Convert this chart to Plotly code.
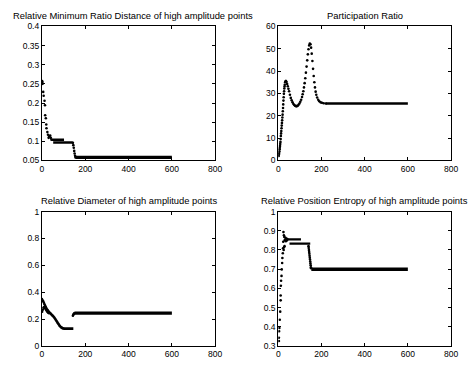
import plotly.graph_objects as go

# ---------------- data ----------------
titles = [
    "Relative Minimum Ratio Distance of high amplitude points",
    "Participation Ratio",
    "Relative Diameter of high amplitude points",
    "Relative Position Entropy of high amplitude points",
]
x_ticks = [0, 200, 400, 600, 800]

# Panel 1: Relative Minimum Ratio Distance
p1_dots_x = [1, 2, 3, 6, 8, 12, 14, 15, 18, 20, 21, 25, 28, 31, 34, 38, 41, 44,
             143, 145, 147, 149, 151, 153, 155]
p1_dots_y = [0.257, 0.255, 0.25, 0.229, 0.219, 0.206, 0.194, 0.168, 0.16, 0.144, 0.134,
             0.124, 0.117, 0.109, 0.113, 0.115, 0.109, 0.104,
             0.096, 0.09, 0.083, 0.075, 0.068, 0.062, 0.058]
p1_seg_x0 = [44, 52, 155]
p1_seg_x1 = [102, 142, 600]
p1_seg_y = [0.104, 0.097, 0.058]
p1_yticks = [0.05, 0.1, 0.15, 0.2, 0.25, 0.3, 0.35, 0.4]
p1_ylabels = ["0.05", "0.1", "0.15", "0.2", "0.25", "0.3", "0.35", "0.4"]

# Panel 2: Participation Ratio
p2_x = [2, 3, 4, 5, 6, 7, 8, 9, 10, 11, 12, 13, 14, 15, 16, 17, 18, 19, 20, 21, 22, 23,
        24, 25, 26, 27, 28, 29, 30, 32, 34, 36, 38, 41, 44, 47, 50, 54, 58, 62, 66, 70,
        74, 78, 82, 86, 90, 94, 98, 102, 106, 110, 113, 116, 119, 122, 125, 128, 131,
        134, 137, 140, 143, 146, 149, 152, 155, 158, 161, 164, 167, 170, 173, 176, 180,
        185, 190, 196, 202, 210, 220]
p2_y = [2.0, 2.7, 3.3, 4.1, 5.0, 5.7, 6.5, 7.4, 8.3, 9.6, 11.0, 12.1, 13.2, 14.4, 15.6,
        16.8, 18.0, 19.2, 20.5, 22.0, 23.5, 25.1, 26.8, 28.3, 29.8, 31.0, 32.2, 33.1,
        33.9, 35.0, 35.5, 35.5, 35.1, 34.2, 33.2, 32.1, 31.0, 29.4, 28.0, 26.9, 26.0,
        25.3, 24.8, 24.5, 24.3, 24.3, 24.5, 24.9, 25.5, 26.3, 27.2, 28.4, 29.6, 31.0,
        32.7, 34.6, 36.8, 39.3, 42.0, 44.8, 47.5, 49.8, 51.5, 52.3, 52.0, 50.5, 47.8,
        44.5, 41.0, 37.8, 35.0, 32.7, 30.8, 29.4, 28.2, 27.2, 26.5, 26.0, 25.8, 25.6, 25.5]
p2_seg_x0 = [220]
p2_seg_x1 = [600]
p2_seg_y = [25.5]
p2_yticks = [0, 10, 20, 30, 40, 50, 60]
p2_ylabels = ["0", "10", "20", "30", "40", "50", "60"]

# Panel 3: Relative Diameter
p3_dots_x = [0, 3, 6, 9, 12, 15, 18, 21, 24, 27, 30, 33,
             1, 4, 7, 10, 13, 16, 19, 22, 25, 28, 31,
             36, 39, 42, 45, 48, 51, 54, 57, 60, 63, 66, 69, 72, 75, 78, 81, 84, 87, 90,
             93, 96, 99,
             143, 145, 147, 149]
p3_dots_y = [0.35, 0.34, 0.332, 0.322, 0.31, 0.30, 0.29, 0.28, 0.272, 0.265, 0.258, 0.252,
             0.255, 0.27, 0.285, 0.29, 0.285, 0.278, 0.27, 0.262, 0.255, 0.25, 0.245,
             0.247, 0.243, 0.238, 0.233, 0.228, 0.224, 0.218, 0.212, 0.205, 0.198, 0.19,
             0.182, 0.174, 0.167, 0.16, 0.153, 0.147, 0.142, 0.138, 0.135, 0.133, 0.131,
             0.225, 0.232, 0.238, 0.243]
p3_seg_x0 = [99, 150]
p3_seg_x1 = [145, 600]
p3_seg_y = [0.13, 0.245]
p3_yticks = [0, 0.2, 0.4, 0.6, 0.8, 1]
p3_ylabels = ["0", "0.2", "0.4", "0.6", "0.8", "1"]

# Panel 4: Relative Position Entropy
p4_dots_x = [3, 3, 4, 5, 7, 9, 11, 11, 12, 13, 15, 16, 18, 19, 21, 22, 23, 24, 25, 26,
             27, 28, 29, 30, 33, 35, 37, 40, 42,
             140, 141, 142, 143, 144, 145, 146, 147, 148, 149, 150, 151, 152]
p4_dots_y = [0.326, 0.343, 0.377, 0.394, 0.437, 0.479, 0.538, 0.563, 0.614, 0.64, 0.665,
             0.699, 0.732, 0.758, 0.783, 0.809, 0.843, 0.893, 0.80, 0.876, 0.815, 0.868,
             0.82, 0.851, 0.863, 0.846, 0.859, 0.85, 0.857,
             0.82, 0.81, 0.80, 0.79, 0.78, 0.77, 0.76, 0.75, 0.74, 0.73, 0.72, 0.71, 0.705]
p4_seg_x0 = [42, 52, 153]
p4_seg_x1 = [105, 148, 600]
p4_seg_y = [0.855, 0.833, 0.70]
p4_yticks = [0.3, 0.4, 0.5, 0.6, 0.7, 0.8, 0.9, 1]
p4_ylabels = ["0.3", "0.4", "0.5", "0.6", "0.7", "0.8", "0.9", "1"]

# ---------------- figure ----------------
W, H = 476, 368
FONT = "Liberation Sans, Arial, Helvetica, sans-serif"

panels = [
    dict(dx=p1_dots_x, dy=p1_dots_y, s0=p1_seg_x0, s1=p1_seg_x1, sy=p1_seg_y,
         yr=[0.05, 0.4], yt=p1_yticks, yl=p1_ylabels, seg_w=[2.6, 2.6, 3.2]),
    dict(dx=p2_x, dy=p2_y, s0=p2_seg_x0, s1=p2_seg_x1, sy=p2_seg_y,
         yr=[0, 60], yt=p2_yticks, yl=p2_ylabels, seg_w=[2.6]),
    dict(dx=p3_dots_x, dy=p3_dots_y, s0=p3_seg_x0, s1=p3_seg_x1, sy=p3_seg_y,
         yr=[0, 1], yt=p3_yticks, yl=p3_ylabels, seg_w=[2.8, 3.2]),
    dict(dx=p4_dots_x, dy=p4_dots_y, s0=p4_seg_x0, s1=p4_seg_x1, sy=p4_seg_y,
         yr=[0.3, 1], yt=p4_yticks, yl=p4_ylabels, seg_w=[2.4, 2.4, 3.6]),
]

# pixel boxes (left, right, top, bottom)
boxes = [
    (40.7, 217.3, 22.0, 159.8),
    (281.6, 457.7, 22.0, 159.8),
    (40.7, 217.3, 212.3, 350.6),
    (281.6, 457.7, 212.3, 350.6),
]
title_pos = [(134, 10.5), (369.5, 10.5), (129, 201), (369.5, 201)]

fig = go.Figure()
layout = dict(
    width=W, height=H, margin=dict(l=0, r=0, t=0, b=0),
    paper_bgcolor="white", plot_bgcolor="white", showlegend=False,
    font=dict(family=FONT, size=8.5, color="black"),
)
annotations = []
for i, (p, b) in enumerate(zip(panels, boxes)):
    n = "" if i == 0 else str(i + 1)
    xa, ya = "x" + n, "y" + n
    # thick horizontal runs of overlapping dots
    for x0, x1, yv, w in zip(p["s0"], p["s1"], p["sy"], p["seg_w"]):
        fig.add_trace(go.Scatter(x=[x0, x1], y=[yv, yv], mode="lines",
                                 line=dict(color="black", width=w),
                                 xaxis=xa, yaxis=ya, hoverinfo="skip"))
    fig.add_trace(go.Scatter(x=p["dx"], y=p["dy"], mode="markers",
                             marker=dict(color="black", size=2.6, line=dict(width=0)),
                             xaxis=xa, yaxis=ya))
    l, r, t, btm = b
    axcommon = dict(showline=True, linecolor="black", linewidth=1, mirror="ticks",
                    ticks="inside", ticklen=3, tickwidth=1, tickcolor="black",
                    showgrid=False, zeroline=False,
                    tickfont=dict(family=FONT, size=8.5, color="black"))
    layout["xaxis" + n] = dict(axcommon, domain=[l / W, r / W], range=[0, 800],
                               tickvals=x_ticks, ticktext=[str(v) for v in x_ticks],
                               anchor=ya)
    layout["yaxis" + n] = dict(axcommon, domain=[1 - btm / H, 1 - t / H], range=p["yr"],
                               tickvals=p["yt"], ticktext=p["yl"], anchor=xa)
    tx, ty = title_pos[i]
    annotations.append(dict(text=titles[i], x=tx / W, y=1 - ty / H, xref="paper",
                            yref="paper", xanchor="center", yanchor="middle",
                            showarrow=False, font=dict(family=FONT, size=9.4, color="black")))
layout["annotations"] = annotations
fig.update_layout(**layout)
fig.write_html("out.html", config={"displayModeBar": False},
               post_script="document.body.style.margin='0';document.body.style.padding='0';")
